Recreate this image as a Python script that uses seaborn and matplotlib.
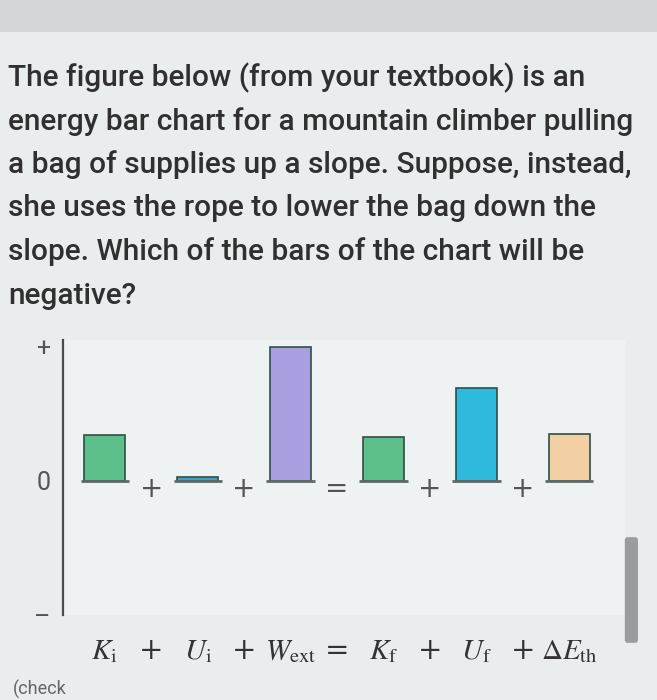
import matplotlib
matplotlib.use("Agg")
import matplotlib.pyplot as plt
import matplotlib.patches as mpatches
import matplotlib.transforms as mtransforms
import seaborn as sns

# question text, one entry per printed line
question_lines = [
    "The figure below (from your textbook) is an",
    "energy bar chart for a mountain climber pulling",
    "a bag of supplies up a slope. Suppose, instead,",
    "she uses the rope to lower the bag down the",
    "slope. Which of the bars of the chart will be",
    "negative?",
]

# energy bar chart (arbitrary units, + tick = 1)
terms = ["Ki", "Ui", "Wext", "Kf", "Uf", "dEth"]
term_labels = [r"$K_\mathrm{i}$", r"$U_\mathrm{i}$", r"$W_\mathrm{ext}$",
               r"$K_\mathrm{f}$", r"$U_\mathrm{f}$", r"$\Delta E_\mathrm{th}$"]
energy = [0.34, 0.03, 1.0, 0.33, 0.69, 0.35]
operators = ["+", "+", "=", "+", "+"]
bar_colors = ["#5cbf8c", "#3fa3c9", "#a99ee0", "#5cbf8c", "#2fb9dc", "#f3cfa4"]
y_ticks = [-1, 0, 1]
y_ticklabels = ["\u2013", "0", "+"]

sns.set_theme(style="white")
plt.rcParams["font.family"] = ["Roboto", "DejaVu Sans"]
plt.rcParams["mathtext.fontset"] = "stix"

fig = plt.figure(figsize=(6.57, 7.0), dpi=100)
fig.patch.set_facecolor("#eaeded")

# grey strip across the top of the page
fig.patches.append(mpatches.Rectangle((0, 0.955), 1, 0.045, transform=fig.transFigure,
                                      facecolor="#d3d7d8", edgecolor="none", zorder=0))

for i, line in enumerate(question_lines):
    fig.text(0.012, 1 - (78 + 43.5 * i) / 700, line, fontsize=21.5, color="#303030",
             va="center", ha="left", weight="medium")

ax = fig.add_axes([63 / 657, 1 - 615 / 700, (625 - 63) / 657, 275 / 700])
ax.set_facecolor("#eef2f3")

sns.barplot(x=terms, y=energy, hue=terms, palette=bar_colors, legend=False,
            saturation=1, width=0.44, edgecolor="#2f4f45", linewidth=1.2, ax=ax)

# short base line under each bar
for p in ax.patches:
    x0 = p.get_x() - 0.04
    ax.plot([x0, x0 + p.get_width() + 0.08], [0, 0], color="#5d6a68", lw=2.0,
            solid_capstyle="butt", zorder=3)

ax.set_xlim(-0.45, 5.6)
ax.set_ylim(-0.97, 1.05)
ax.set_yticks(y_ticks)
ax.set_yticklabels(y_ticklabels, fontsize=18, color="#555555")
ax.tick_params(axis="y", length=5, width=1.2, color="#555555", pad=4)
ax.set_xticks(range(len(terms)))
ax.set_xticklabels(term_labels, fontsize=21, color="#333333")
ax.tick_params(axis="x", length=0, pad=16)
ax.set_xlabel("")
ax.set_ylabel("")

for side in ["top", "right", "bottom"]:
    ax.spines[side].set_visible(False)
ax.spines["left"].set_color("#4a4a4a")
ax.spines["left"].set_linewidth(1.6)

# operators between the bars and between the labels
trans = mtransforms.blended_transform_factory(ax.transData, ax.transAxes)
for i, op in enumerate(operators):
    ax.text(i + 0.5, -0.06, op, fontsize=20, color="#555555", ha="center", va="center",
            family="DejaVu Sans")
    ax.text(i + 0.5, -0.13, op, fontsize=21, color="#333333", ha="center", va="center",
            transform=trans, family="DejaVu Serif")

# scrollbar at the right edge
fig.patches.append(mpatches.FancyBboxPatch((0.955, 1 - 640 / 700), 0.012, 100 / 700,
                                           boxstyle="round,pad=0.004", transform=fig.transFigure,
                                           facecolor="#9a9d9e", edgecolor="none"))

fig.text(0.02, 0.002, "(check", fontsize=13, color="#666666", va="bottom")

fig.savefig("out.png", dpi=100, facecolor=fig.get_facecolor())
